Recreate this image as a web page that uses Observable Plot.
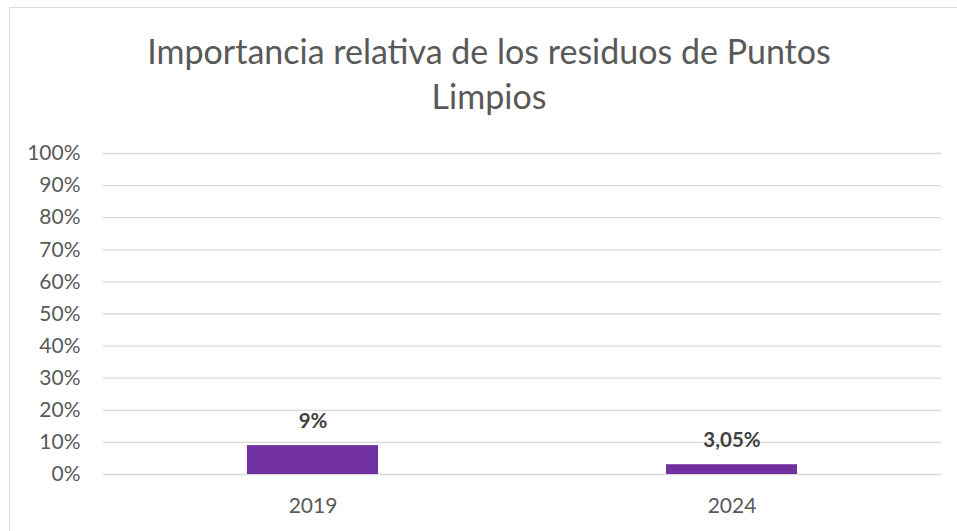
<!DOCTYPE html>
<html>
<head>
<meta charset="utf-8">
<script src="https://cdn.jsdelivr.net/npm/d3@7"></script>
<script src="https://cdn.jsdelivr.net/npm/@observablehq/plot@0.6"></script>
<style>
  html, body { margin: 0; padding: 0; background: #fff; }
  #wrap { position: relative; width: 957px; height: 531px; overflow: hidden; font-family: Lato, "Open Sans", sans-serif; }
  #frame { position: absolute; left: 9px; top: 7px; width: 960px; height: 540px; border: 1px solid #d9d9d9; box-sizing: border-box; }
  #title { position: absolute; left: 0; width: 978px; top: 28px; text-align: center; color: #595959; font-size: 34px; line-height: 45px; font-weight: 400; }
  #chart { position: absolute; left: 0; top: 0; }
</style>
</head>
<body>
<div id="wrap">
  <div id="frame"></div>
  <div id="title">Importancia relativa de los residuos de Puntos<br>Limpios</div>
  <div id="chart"></div>
</div>
<script>
const years = ["2019", "2024"];
const shares = [0.09, 0.0305];
const valueLabels = ["9%", "3,05%"];
const yTicks = [0, 0.1, 0.2, 0.3, 0.4, 0.5, 0.6, 0.7, 0.8, 0.9, 1.0];

const data = years.map((y, i) => ({year: y, share: shares[i], label: valueLabels[i]}));

const chart = Plot.plot({
  width: 957,
  height: 531,
  marginLeft: 103,
  marginRight: 16,
  marginTop: 153,
  marginBottom: 57,
  style: {fontFamily: "Lato, 'Open Sans', sans-serif", background: "transparent", overflow: "visible"},
  x: {domain: years, paddingInner: 0.687, paddingOuter: 0.3435, label: null},
  y: {domain: [0, 1], label: null},
  marks: [
    Plot.gridY(yTicks, {stroke: "#d9d9d9", strokeOpacity: 1, strokeWidth: 1.3}),
    Plot.axisY(yTicks, {tickSize: 0, tickPadding: 23, tickFormat: d3.format(".0%"), fontSize: 21, fill: "#595959", label: null}),
    Plot.axisX({tickSize: 0, tickPadding: 24, fontSize: 21, fill: "#595959", label: null}),
    Plot.barY(data, {x: "year", y: "share", fill: "#7030A0"}),
    Plot.text(data, {x: "year", y: "share", text: "label", lineAnchor: "bottom", dy: -18, fontSize: 20.5, fontWeight: "bold", fill: "#404040"})
  ]
});
document.getElementById("chart").appendChild(chart);
</script>
</body>
</html>
